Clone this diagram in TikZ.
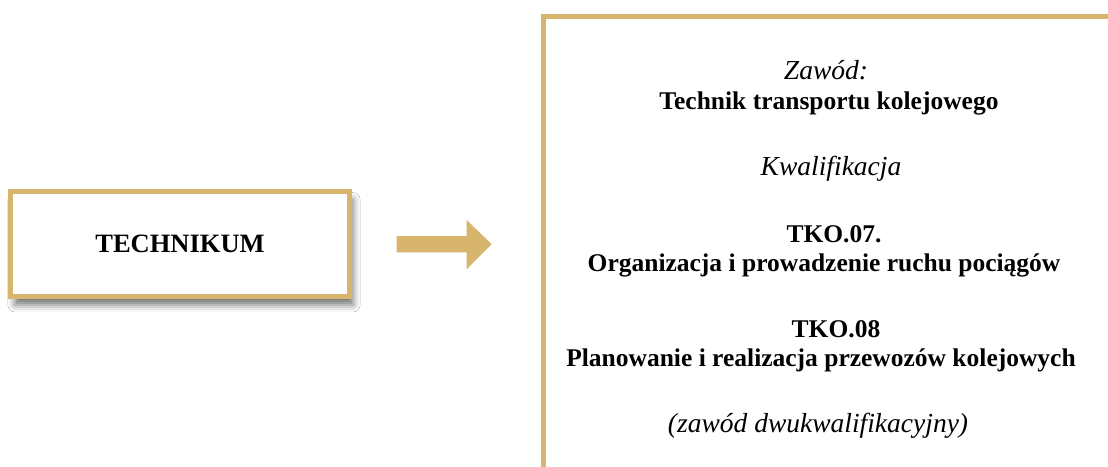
\documentclass[tikz,border=0pt]{standalone}
\usepackage{fontspec}
\setmainfont{Liberation Serif}
\usetikzlibrary{shadows.blur}
\definecolor{gold}{RGB}{216,181,108}
\tikzset{
  goldbox/.style={draw=gold, line width=5pt, fill=white, rectangle, inner sep=0pt},
  bl/.style={anchor=base, font=\fontsize{25.5}{30}\selectfont\bfseries, inner sep=0pt},
  il/.style={anchor=base, font=\fontsize{27.5}{32}\selectfont\itshape, inner sep=0pt},
}
\begin{document}
\begin{tikzpicture}[x=1pt, y=-1pt]
\useasboundingbox (0,0) rectangle (1108,466);
\fill[white] (0,0) rectangle (1108,466);
\clip (0,0) rectangle (1108,466);
% left box
\node[goldbox, minimum width=338.2pt, minimum height=105.3pt,
      blur shadow={shadow xshift=4pt, shadow yshift=-8pt, shadow blur radius=7pt, shadow opacity=55},
      font=\fontsize{26.5}{30}\selectfont\bfseries] (tech) at (180,244.3) {TECHNIKUM};
% arrow
\fill[gold] (396.7,236) -- (466.7,236) -- (466.7,220) -- (491.7,244.2) -- (466.7,269.3)
  -- (466.7,252.3) -- (396.7,252.3) -- cycle;
% right box
\draw[gold, line width=5pt] (543.5,490) -- (543.5,16) -- (1130,16);
\node[il] (zaw) at (826,79) {Zawód:};
\node[bl] (tn) at (829,109) {Technik transportu kolejowego};
\node[il] (kw) at (831,175) {Kwalifikacja};
\node[bl] (t7) at (834,242) {TKO.07.};
\node[bl] (o7) at (824,271) {Organizacja i prowadzenie ruchu pociągów};
\node[bl] (t8) at (836,337) {TKO.08};
\node[bl] (p8) at (821,366) {Planowanie i realizacja przewozów kolejowych};
\node[il] (dw) at (818,432) {(zawód dwukwalifikacyjny)};
\end{tikzpicture}
\end{document}
